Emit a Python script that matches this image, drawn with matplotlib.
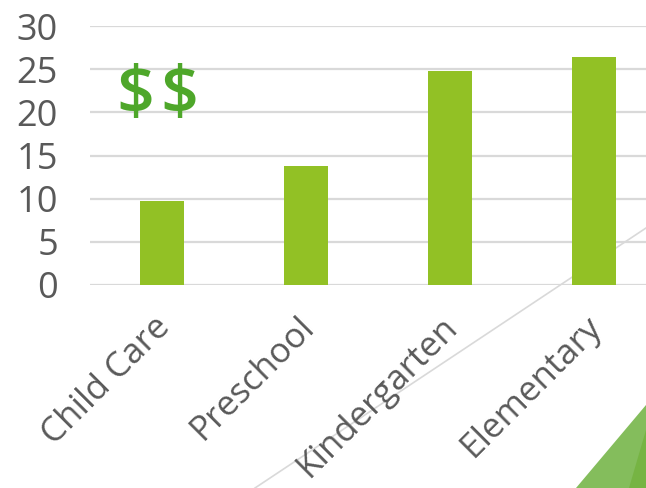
import numpy as np
import matplotlib
matplotlib.use("AGG")
import matplotlib.pyplot as plt
import matplotlib.patches as mpatches
from matplotlib.lines import Line2D
from matplotlib.transforms import ScaledTranslation

categories = ["Child Care", "Preschool", "Kindergarten", "Elementary"]
values = [9.7, 13.8, 24.8, 26.4]
yticks = [0, 5, 10, 15, 20, 25, 30]

plt.rcParams['font.family'] = ['Open Sans', 'DejaVu Sans']

fig = plt.figure(figsize=(6.46, 4.88), dpi=100)

# slide decoration: thin diagonal rule and green corner triangles
fig.add_artist(Line2D([255 / 646, 1.0], [0.0, 1 - 228 / 488], color='#d9d9d9', lw=1.2,
                      transform=fig.transFigure, zorder=0))
fig.add_artist(mpatches.Polygon([[576 / 646, 0], [1, 1 - 405 / 488], [1, 0]], closed=True,
                                fc='#84bd5c', ec='none', transform=fig.transFigure, zorder=0))
fig.add_artist(mpatches.Polygon([[629 / 646, 0], [1, 1 - 430 / 488], [1, 0]], closed=True,
                                fc='#76b443', ec='none', transform=fig.transFigure, zorder=0))

ax = fig.add_axes([90 / 646, 1 - 285 / 488, 576 / 646, 259 / 488])
ax.patch.set_alpha(0)
x = np.arange(len(categories))
ax.bar(x, values, width=0.31, color='#92c125', zorder=3)

ax.set_xlim(-0.5, 3.5)
ax.set_ylim(0, 30)
ax.set_yticks(yticks)
ax.yaxis.grid(True, color='#d9d9d9', lw=1.6, zorder=0)
ax.set_axisbelow(True)
for s in ax.spines.values():
    s.set_visible(False)
ax.tick_params(length=0, labelcolor='#595959')
ax.tick_params(axis='y', pad=23, labelsize=26)
ax.tick_params(axis='x', pad=18, labelsize=25)
ax.set_xticks(x)
ax.set_xticklabels(categories, rotation=45, ha='right', rotation_mode='anchor')
shift = ScaledTranslation(-0.09, 0, fig.dpi_scale_trans)
for lab in ax.get_xticklabels():
    lab.set_transform(lab.get_transform() + shift)

# the two dollar signs
for xs in (0.079, 0.155):
    ax.text(xs, 0.728, r"\$", transform=ax.transAxes, fontsize=48, color='#4ea72a',
            ha='center', va='center', fontweight='semibold')

fig.savefig("out.png", dpi=100)
